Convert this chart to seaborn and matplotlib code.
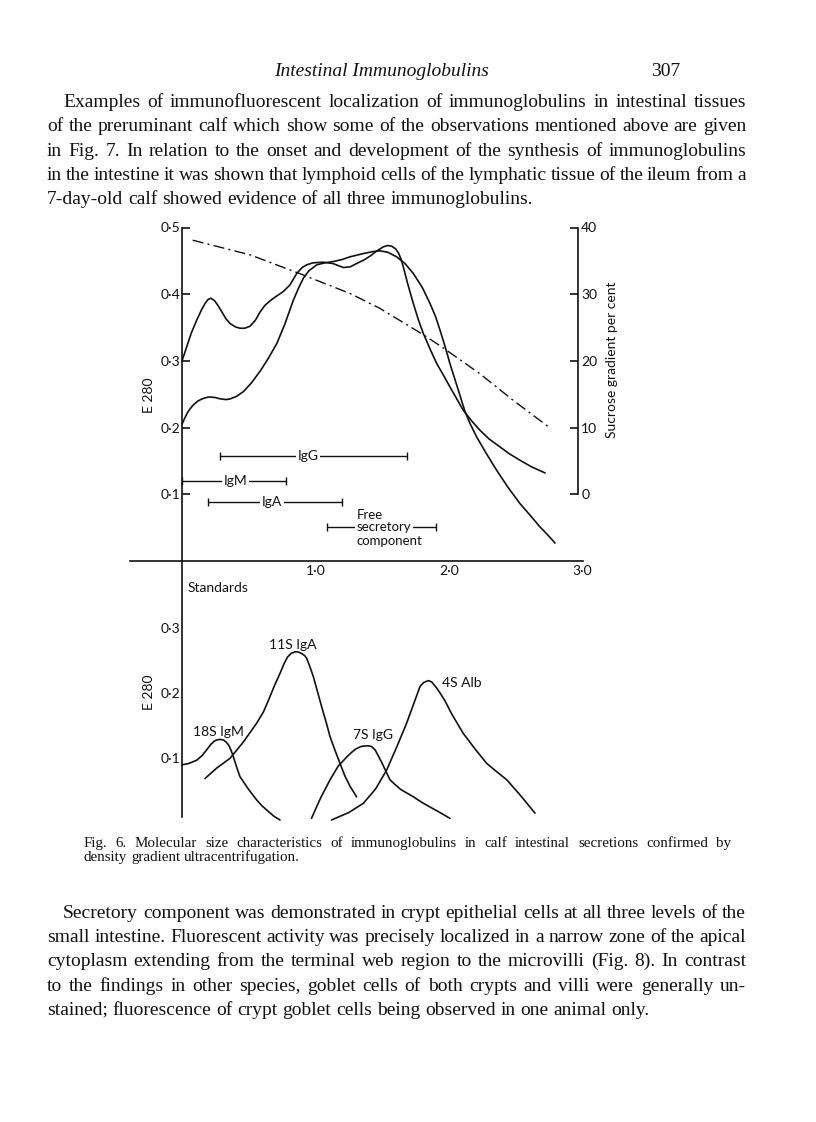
import matplotlib
matplotlib.use("Agg")
import matplotlib.pyplot as plt
import numpy as np
import pandas as pd
import seaborn as sns

# ---- data ----
# upper panel: E280 of intestinal secretion fractions vs distance
curve_a_x = [0.0, 0.035, 0.07, 0.11, 0.145, 0.172, 0.195, 0.217, 0.245, 0.27, 0.297, 0.33, 0.36, 0.40,
             0.434, 0.47, 0.51, 0.55, 0.584, 0.62, 0.659, 0.70, 0.759, 0.809, 0.859, 0.90, 0.934,
             0.98, 1.058, 1.13, 1.209, 1.26, 1.308, 1.36, 1.408, 1.46, 1.508, 1.54, 1.57, 1.60,
             1.621, 1.64, 1.658, 1.69, 1.733, 1.77, 1.808, 1.86, 1.908, 1.96, 2.007, 2.107, 2.17,
             2.232, 2.30, 2.382, 2.45, 2.532, 2.62, 2.72]
curve_a_y = [0.300, 0.321, 0.342, 0.361, 0.376, 0.386, 0.392, 0.394, 0.390, 0.383, 0.374, 0.363, 0.356,
             0.351, 0.349, 0.349, 0.352, 0.361, 0.373, 0.383, 0.390, 0.396, 0.404, 0.414, 0.431, 0.440,
             0.444, 0.447, 0.448, 0.446, 0.440, 0.441, 0.446, 0.451, 0.457, 0.465, 0.471, 0.473, 0.472,
             0.468, 0.462, 0.453, 0.441, 0.416, 0.386, 0.362, 0.341, 0.317, 0.296, 0.278, 0.261, 0.226,
             0.210, 0.196, 0.183, 0.171, 0.161, 0.151, 0.141, 0.132]
curve_b_x = [0.0, 0.02, 0.04, 0.06, 0.085, 0.12, 0.15, 0.18, 0.21, 0.25, 0.29, 0.33, 0.36, 0.41,
             0.46, 0.52, 0.59, 0.65, 0.71, 0.77, 0.834, 0.875, 0.909, 0.95, 1.009, 1.07, 1.134,
             1.2, 1.258, 1.36, 1.433, 1.483, 1.54, 1.608, 1.67, 1.733, 1.80, 1.858, 1.90, 1.933,
             1.97, 2.007, 2.04, 2.07, 2.12, 2.16, 2.207, 2.28, 2.357, 2.44, 2.532, 2.61, 2.682,
             2.74, 2.794]
curve_b_y = [0.205, 0.214, 0.222, 0.228, 0.234, 0.240, 0.243, 0.245, 0.246, 0.245, 0.243, 0.242, 0.243,
             0.247, 0.254, 0.267, 0.286, 0.305, 0.326, 0.355, 0.391, 0.410, 0.424, 0.435, 0.444,
             0.447, 0.449, 0.452, 0.456, 0.461, 0.464, 0.465, 0.463, 0.456, 0.446, 0.431, 0.410,
             0.386, 0.366, 0.346, 0.322, 0.296, 0.275, 0.256, 0.224, 0.205, 0.186, 0.161, 0.136,
             0.111, 0.086, 0.068, 0.051, 0.039, 0.027]
# sucrose gradient (right axis, per cent)
sucrose_x = [0.08, 0.51, 0.88, 1.26, 1.48, 1.81, 1.96, 2.23, 2.48, 2.76]
sucrose_y = [38.1, 35.9, 33.1, 30.1, 27.9, 23.9, 21.9, 18.1, 14.1, 9.9]

# position ranges of the immunoglobulins
bar_names = ["IgG", "IgM", "IgA", "secretory"]
bar_lo = [0.285, 0.0, 0.192, 1.083]
bar_hi = [1.683, 0.78, 1.20, 1.903]
bar_level = [0.157, 0.12, 0.088, 0.0505]

# lower panel: standards
igm_x = [0.0, 0.05, 0.11, 0.15, 0.185, 0.215, 0.24, 0.26, 0.285, 0.31, 0.33, 0.35, 0.37, 0.39,
         0.41, 0.434, 0.47, 0.50, 0.56, 0.60, 0.65, 0.69, 0.734]
igm_y = [0.090, 0.092, 0.097, 0.104, 0.113, 0.121, 0.126, 0.128, 0.129, 0.128, 0.125, 0.120, 0.111,
         0.099, 0.086, 0.072, 0.061, 0.052, 0.036, 0.027, 0.018, 0.011, 0.0055]
iga_x = [0.172, 0.26, 0.36, 0.46, 0.56, 0.61, 0.65, 0.69, 0.734, 0.765, 0.79, 0.82, 0.846, 0.87,
         0.90, 0.92, 0.934, 0.955, 0.984, 1.015, 1.046, 1.08, 1.109, 1.15, 1.184, 1.22, 1.259, 1.308]
iga_y = [0.069, 0.085, 0.100, 0.125, 0.154, 0.171, 0.190, 0.210, 0.230, 0.245, 0.255, 0.261, 0.263,
         0.263, 0.260, 0.257, 0.253, 0.242, 0.225, 0.202, 0.179, 0.155, 0.133, 0.110, 0.092, 0.073,
         0.057, 0.041]
igg_x = [0.97, 1.04, 1.109, 1.17, 1.234, 1.27, 1.30, 1.34, 1.371, 1.40, 1.42, 1.446, 1.47, 1.50,
         1.53, 1.558, 1.60, 1.64, 1.733, 1.80, 1.87, 1.94, 2.007]
igg_y = [0.008, 0.040, 0.067, 0.088, 0.102, 0.109, 0.114, 0.118, 0.119, 0.119, 0.118, 0.113, 0.104,
         0.092, 0.079, 0.067, 0.059, 0.052, 0.041, 0.032, 0.024, 0.016, 0.008]
alb_x = [1.12, 1.25, 1.358, 1.45, 1.533, 1.61, 1.683, 1.74, 1.783, 1.81, 1.846, 1.87, 1.89, 1.91,
         1.933, 1.97, 2.02, 2.107, 2.20, 2.283, 2.36, 2.433, 2.54, 2.644]
alb_y = [0.0055, 0.017, 0.031, 0.053, 0.082, 0.118, 0.154, 0.186, 0.210, 0.216, 0.219, 0.217, 0.212,
         0.207, 0.200, 0.188, 0.168, 0.138, 0.113, 0.092, 0.079, 0.067, 0.042, 0.016]
std_labels = ["18S IgM", "11S IgA", "7S IgG", "4S Alb"]

upper_ticks = [0.1, 0.2, 0.3, 0.4, 0.5]
lower_ticks = [0.1, 0.2, 0.3]
right_ticks = [0, 10, 20, 30, 40]
x_ticks = [1.0, 2.0, 3.0]

para1 = ["Examples of immunofluorescent localization of immunoglobulins in intestinal tissues",
         "of the preruminant calf which show some of the observations mentioned above are given",
         "in Fig. 7. In relation to the onset and development of the synthesis of immunoglobulins",
         "in the intestine it was shown that lymphoid cells of the lymphatic tissue of the ileum from a",
         "7-day-old calf showed evidence of all three immunoglobulins."]
caption = ["Fig. 6. Molecular size characteristics of immunoglobulins in calf intestinal secretions confirmed by",
           "density gradient ultracentrifugation."]
para2 = ["Secretory component was demonstrated in crypt epithelial cells at all three levels of the",
         "small intestine. Fluorescent activity was precisely localized in a narrow zone of the apical",
         "cytoplasm extending from the terminal web region to the microvilli (Fig. 8). In contrast",
         "to the findings in other species, goblet cells of both crypts and villi were generally un-",
         "stained; fluorescence of crypt goblet cells being observed in one animal only."]

# ---- figure setup ----
sns.set_style("white")
plt.rcParams["font.family"] = ["Lato", "DejaVu Sans"]
W, H = 816, 1122
fig = plt.figure(figsize=(W / 100, H / 100), dpi=100)
fig.patch.set_facecolor("white")

def dot(v):
    return ("%.1f" % v).replace(".", "\u00b7")

lw = 1.2
ink = "#111111"
x0px, xscale = 182, 133.5
xlim = (-0.39, 3.0)
ax_w = (xlim[1] - xlim[0]) * xscale / W
ax_l = (x0px + xlim[0] * xscale) / W

# upper panel
ax = fig.add_axes([ax_l, (H - 561) / H, ax_w, 333.5 / H])
ax.set_xlim(*xlim)
ax.set_ylim(0, 0.5)
ax.patch.set_alpha(0)
for xs, ys in [(curve_a_x, curve_a_y), (curve_b_x, curve_b_y)]:
    sns.lineplot(x=xs, y=ys, ax=ax, color=ink, lw=lw, sort=False, estimator=None)
ax.spines["left"].set_position(("data", 0))
ax.spines["left"].set_bounds(0, 0.5)
ax.spines["right"].set_visible(False)
ax.spines["top"].set_visible(False)
for s in ["left", "bottom"]:
    ax.spines[s].set_linewidth(lw)
    ax.spines[s].set_color(ink)
ax.set_yticks(upper_ticks)
ax.set_yticklabels([dot(v) for v in upper_ticks])
ax.set_xticks(x_ticks)
ax.set_xticklabels([dot(v) for v in x_ticks])
ax.tick_params(axis="y", direction="in", length=6, width=lw, pad=1, labelsize=10, colors=ink)
ax.tick_params(axis="x", direction="in", length=7, width=lw, pad=3, labelsize=10, colors=ink)

# sucrose gradient on twin axis
ax2 = ax.twinx()
ax2.set_ylim(-10, 40)
sns.lineplot(x=sucrose_x, y=sucrose_y, ax=ax2, color=ink, lw=1.0, sort=False, estimator=None,
             linestyle=(0, (8, 3, 1.5, 3)))
for s in ["left", "top", "bottom"]:
    ax2.spines[s].set_visible(False)
ax2.spines["right"].set_position(("data", 2.97))
ax2.spines["right"].set_bounds(0, 40)
ax2.spines["right"].set_linewidth(lw)
ax2.spines["right"].set_color(ink)
ax2.set_yticks(right_ticks)
ax2.set_yticklabels([str(v) for v in right_ticks])
ax2.tick_params(axis="y", direction="in", length=6, width=lw, pad=2, labelsize=10, colors=ink)
ax2.set_ylabel("")

# range bars
for name, lo, hi, lev in zip(bar_names, bar_lo, bar_hi, bar_level):
    ax.errorbar([(lo + hi) / 2], [lev], xerr=[(hi - lo) / 2], fmt="none", ecolor=ink,
                elinewidth=1.0, capsize=3, capthick=1.0)
label_x = [0.946, 0.40, 0.672]
for name, lx, lev in zip(bar_names[:3], label_x, bar_level[:3]):
    ax.text(lx, lev, name, ha="center", va="center", fontsize=10, color=ink,
            bbox=dict(facecolor="white", edgecolor="none", pad=1.2))
ax.text(1.308, bar_level[3] + 0.019, "Free", ha="left", va="center", fontsize=9.5, color=ink)
ax.text(1.308, bar_level[3], "secretory", ha="left", va="center", fontsize=9.5, color=ink,
        bbox=dict(facecolor="white", edgecolor="none", pad=1.0))
ax.text(1.308, bar_level[3] - 0.02, "component", ha="left", va="center", fontsize=9.5, color=ink)

# lower panel
bx = fig.add_axes([ax_l, (H - 830.1) / H, ax_w, 269 / H])
bx.set_xlim(*xlim)
bx.set_ylim(-0.01, 0.402)
bx.patch.set_alpha(0)
for xs, ys in [(igm_x, igm_y), (iga_x, iga_y), (igg_x, igg_y), (alb_x, alb_y)]:
    sns.lineplot(x=xs, y=ys, ax=bx, color=ink, lw=lw, sort=False, estimator=None)
for s in ["right", "top", "bottom"]:
    bx.spines[s].set_visible(False)
bx.spines["left"].set_position(("data", 0))
bx.spines["left"].set_bounds(0.01, 0.402)
bx.spines["left"].set_linewidth(lw)
bx.spines["left"].set_color(ink)
bx.set_xticks([])
bx.set_yticks(lower_ticks)
bx.set_yticklabels([dot(v) for v in lower_ticks])
bx.tick_params(axis="y", direction="in", length=6, width=lw, pad=1, labelsize=10, colors=ink)
bx.text(0.045, 0.361, "Standards", ha="left", va="center", fontsize=10, color=ink)
for lab, (lx, ly, ha) in zip(std_labels, [(0.27, 0.141, "center"), (0.828, 0.273, "center"),
                                          (1.427, 0.136, "center"), (1.944, 0.215, "left")]):
    bx.text(lx, ly, lab, ha=ha, va="center", fontsize=10, color=ink)

# axis titles
fig.text(149 / W, 1 - 395 / H, "E 280", rotation=90, ha="center", va="center", fontsize=10, color=ink)
fig.text(149 / W, 1 - 692 / H, "E 280", rotation=90, ha="center", va="center", fontsize=10, color=ink)
fig.text(612 / W, 1 - 360 / H, "Sucrose gradient per cent", rotation=90, ha="center", va="center",
         fontsize=10, color=ink)

# ---- page text ----
serif = ["Liberation Serif", "DejaVu Serif"]
renderer = fig.canvas.get_renderer()

def put_line(text, x0, x1, base, size, justify=True, style="normal"):
    words = text.split()
    arts = [fig.text(0, 0, w, fontsize=size, family=serif, style=style, va="baseline", color=ink)
            for w in words]
    widths = [a.get_window_extent(renderer).width for a in arts]
    if justify and len(words) > 1:
        gap = (x1 - x0 - sum(widths)) / (len(words) - 1)
    else:
        gap = size * 100 / 72 * 0.25
    x = x0
    for a, w in zip(arts, widths):
        a.set_position((x / W, 1 - base / H))
        x += w + gap

fig.text(382 / W, 1 - 76 / H, "Intestinal Immunoglobulins", family=serif, style="italic",
         fontsize=14, ha="center", va="baseline", color=ink)
fig.text(680 / W, 1 - 76 / H, "307", family=serif, fontsize=14, ha="right", va="baseline", color=ink)

for i, line in enumerate(para1):
    put_line(line, 63 if i == 0 else 47, 746, 107 + 24.3 * i, 14.0, justify=i < len(para1) - 1)
for i, line in enumerate(caption):
    put_line(line, 84, 731, 847 + 14 * i, 10.8, justify=i == 0)
for i, line in enumerate(para2):
    put_line(line, 63 if i == 0 else 47, 746, 918 + 24.2 * i, 14.0, justify=i < len(para2) - 1)

fig.savefig("out.png", dpi=100, facecolor="white")
